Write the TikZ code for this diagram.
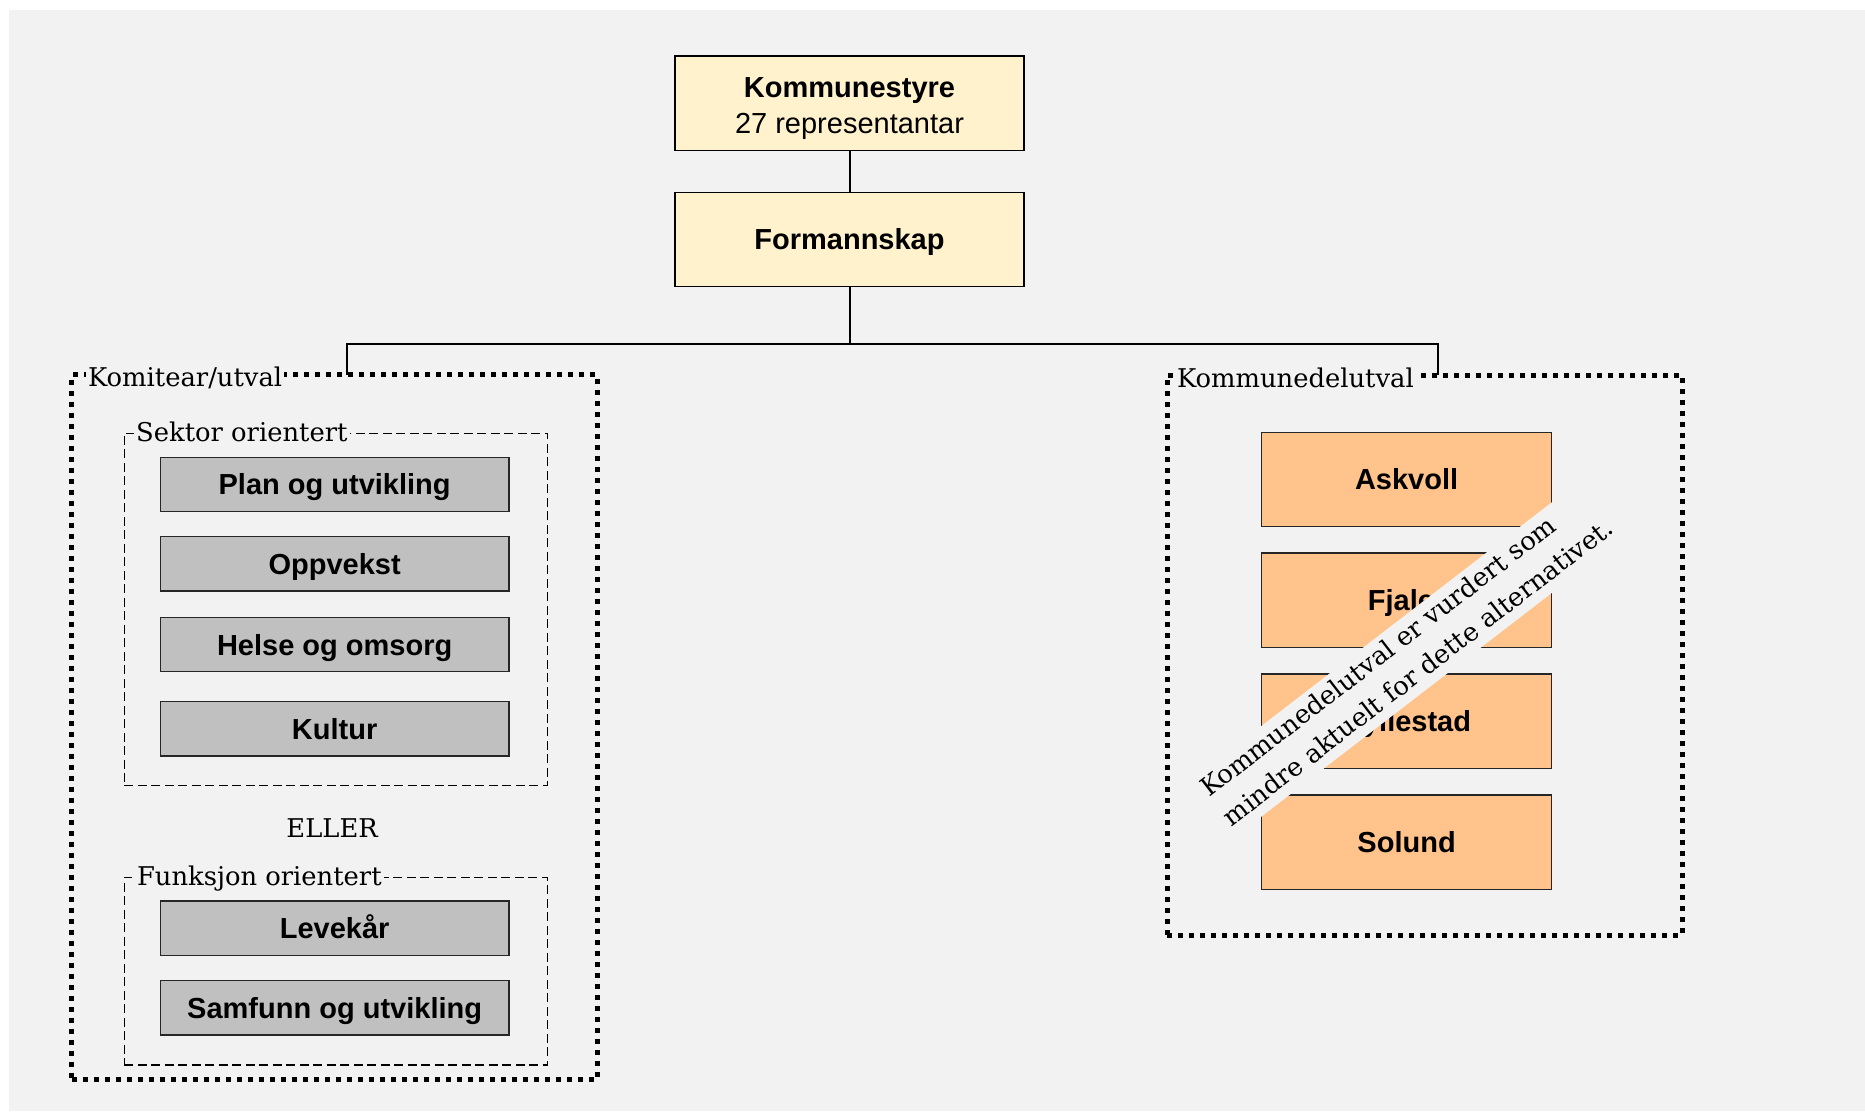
\documentclass[tikz,border=0pt]{standalone}
\usepackage{fontspec}
\setmainfont{DejaVu Serif}
\newfontfamily\sansbox{Liberation Sans}
\definecolor{bg}{HTML}{F2F2F2}
\definecolor{cream}{HTML}{FFF2CC}
\definecolor{boxgrey}{HTML}{C0C0C0}
\definecolor{peach}{HTML}{FFC38B}
\tikzset{
  topbox/.style={draw=black, line width=1.3pt, fill=cream, minimum width=349pt, minimum height=94.5pt,
    inner sep=0pt, align=center, font=\sansbox\fontsize{29}{35.7}\selectfont},
  greybox/.style={draw=black!85, line width=1.3pt, fill=boxgrey, minimum width=348.5pt, minimum height=54.4pt,
    inner sep=0pt, text height=20.8pt, text depth=0pt, font=\sansbox\bfseries\fontsize{29}{35}\selectfont},
  orangebox/.style={draw=black!85, line width=1.3pt, fill=peach, minimum width=290.4pt, minimum height=94.3pt,
    inner sep=0pt, text height=20.8pt, text depth=0pt, font=\sansbox\bfseries\fontsize{29}{35}\selectfont},
  outerdot/.style={draw=black, line width=5pt, dash pattern=on 5pt off 6pt, inner sep=0pt, outer sep=0pt},
  innerdash/.style={draw=black, line width=1.3pt, dash pattern=on 9pt off 4.5pt, inner sep=0pt, outer sep=0pt},
  grouplabel/.style={fill=bg, inner xsep=2pt, inner ysep=1pt, anchor=base west, font=\fontsize{25.8}{32}\selectfont},
  conn/.style={draw=black, line width=2pt},
  notetext/.style={anchor=base west, inner sep=0pt, transform shape, font=\fontsize{25.8}{36.8}\selectfont}
}
\begin{document}
\begin{tikzpicture}[x=1pt, y=1pt]
  \useasboundingbox (0,0) rectangle (1865,1111);
  \fill[white] (0,0) rectangle (1865,1111);
  \fill[bg] (9,0) rectangle (1865,1101);

  % top boxes
  \node[topbox] (kommunestyre) at (849.5,1007.8) {\rule{0pt}{30pt}\textbf{Kommunestyre}\\27 representantar};
  \node[topbox, text height=20.8pt, text depth=0pt] (formannskap) at (849.5,871.5) {\textbf{Formannskap}};

  % containers
  \node[outerdot, minimum width=525.7pt, minimum height=704pt] (komitee) at (334.65,384) {};
  \node[outerdot, minimum width=515pt, minimum height=559.9pt] (kdel) at (1424.6,455.85) {};
  \node[innerdash, minimum width=423.2pt, minimum height=352.4pt] (sektor) at (335.9,501.5) {};
  \node[innerdash, minimum width=423.2pt, minimum height=187.7pt] (funksjon) at (335.9,139.85) {};

  % connectors
  \coordinate (busL) at (346.8,767);
  \coordinate (busR) at (1437.9,767);
  \draw[conn] (kommunestyre.south) -- (formannskap.north);
  \draw[conn] (formannskap.south) -- (formannskap.south |- busL);
  \draw[conn, line join=miter] (komitee.north -| busL) -- (busL) -- (busR) -- (kdel.north -| busR);

  % group labels
  \node[grouplabel] (lkomitee) at (85.9,724.3) {Komitear/utval};
  \node[grouplabel] (lsektor) at (134,669.3) {Sektor orientert};
  \node[grouplabel] (lfunksjon) at (134.8,225) {Funksjon orientert};
  \node[grouplabel] (lkdel) at (1174.8,723.2) {Kommunedelutval};
  \node[anchor=base, inner sep=0pt, font=\fontsize{25.8}{32}\selectfont] (eller) at (332.1,273.7) {ELLER};

  % grey boxes
  \node[greybox] (plan) at (334.65,626.5) {Plan og utvikling};
  \node[greybox] (oppvekst) at (334.65,547.15) {Oppvekst};
  \node[greybox] (helse) at (334.65,466.35) {Helse og omsorg};
  \node[greybox] (kultur) at (334.65,382.15) {Kultur};
  \node[greybox] (levekar) at (334.65,182.85) {Levekår};
  \node[greybox] (samfunn) at (334.65,103.15) {Samfunn og utvikling};

  % orange boxes
  \node[orangebox] (askvoll) at (1406.6,631.5) {Askvoll};
  \node[orangebox] (fjaler) at (1406.6,510.75) {Fjaler};
  \node[orangebox] (hyllestad) at (1406.6,389.8) {Hyllestad};
  \node[orangebox] (solund) at (1406.6,268.9) {Solund};

  % diagonal note
  \begin{scope}[shift={(1209,313)}, rotate=37.6]
    \fill[bg] (-8,-46.7) rectangle (484,25.1);
    \node[notetext] (note1) at (0,0) {Kommunedelutval er vurdert som};
    \node[notetext] (note2) at (0,-36.8) {mindre aktuelt for dette alternativet.};
  \end{scope}
\end{tikzpicture}
\end{document}
